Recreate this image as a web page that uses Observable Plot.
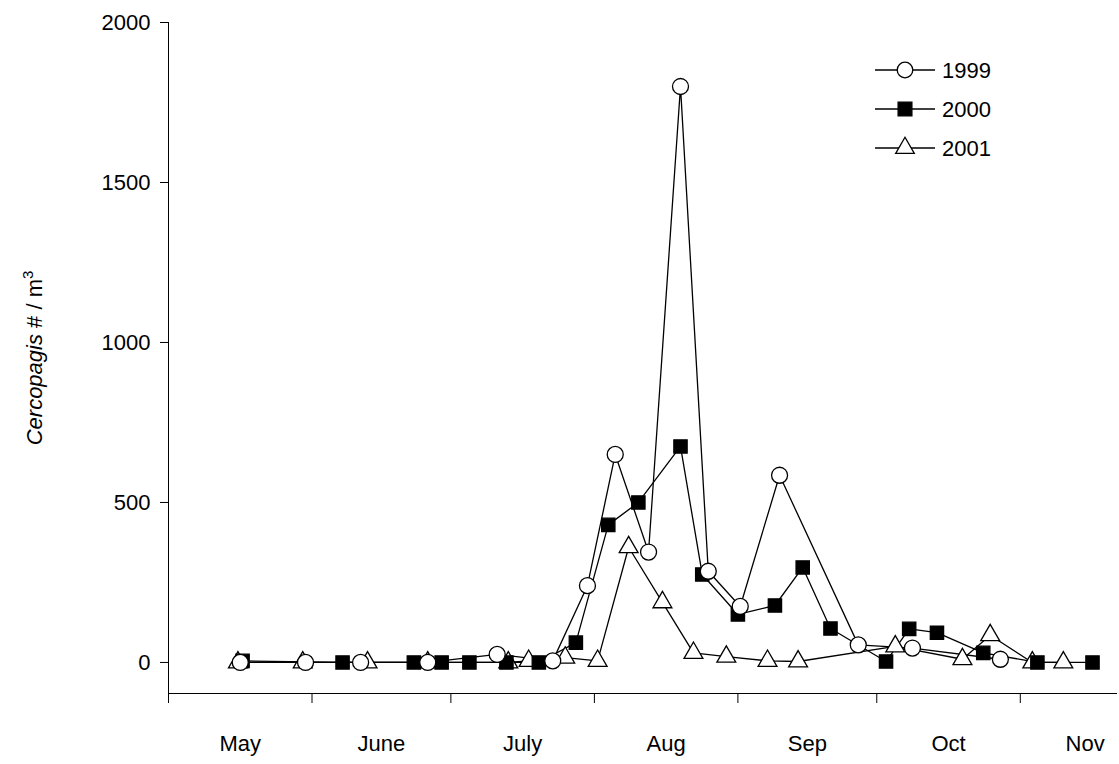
<!DOCTYPE html>
<html><head><meta charset="utf-8">
<script src="https://cdn.jsdelivr.net/npm/d3@7"></script>
<script src="https://cdn.jsdelivr.net/npm/@observablehq/plot@0.6"></script>
<style>body{margin:0;background:#fff;font-family:"Liberation Sans",Arial,sans-serif}</style>
</head><body><div id="chart"></div>
<script>
// day = days since May 1
const days1999 = [15.5,29.6,41.5,56,71,83,90.5,96.5,103.7,110.6,116.6,123.5,132,149,160.7,179.7]
const vals1999 = [0,0,0,0,25,5,240,650,345,1800,285,175,585,55,45,10]
const days2000 = [16,37.6,53,59,65,73,80,88,95,101.5,110.6,115.3,123,131,137,143,155,160,166,176,187.7,199.6]
const vals2000 = [5,0,0,0,0,0,0,62,430,500,675,275,150,178,297,106,3,105,93,30,0,0]
const days2001 = [15,29,43,56,73.4,77.8,85.7,92.7,99.4,106.7,113.4,120.5,129.4,136,157,171.5,177.5,186.6,193.3]
const vals2001 = [0,0,0,0,0,5,15,5,360,188,30,18,5,3,50,10,85,0,0]
const monthStarts = [0,31,61,92,123,153,184]
const monthMids = [15.5,46,76.5,107.5,138,168.5,198]
const monthNames = ['May','June','July','Aug','Sep','Oct','Nov']
const years = ['1999','2000','2001']

const mk = (d, v) => d.map((x, i) => ({x, y: v[i]}))
const s1999 = mk(days1999, vals1999), s2000 = mk(days2000, vals2000), s2001 = mk(days2001, vals2001)
const line = {x: 'x', y: 'y', stroke: 'black', strokeWidth: 1.3}
const dot = {x: 'x', y: 'y', stroke: 'black', strokeWidth: 1.3, r: 8}

let chart = Plot.plot({
  width: 1119, height: 764,
  marginLeft: 168, marginRight: 2, marginTop: 22, marginBottom: 71,
  style: {fontFamily: '"Liberation Sans", Arial, sans-serif', fontSize: '22px', color: 'black'},
  x: {domain: [0, 205]},
  y: {domain: [-97, 2000]},
  marks: [
    Plot.axisY({ticks: [0,500,1000,1500,2000], tickSize: 8, tickPadding: 10, tickFormat: d => String(d), label: null, fontSize: 22}),
    Plot.axisX({ticks: monthStarts, tickSize: 10, tickFormat: () => '', label: null}),
    Plot.axisX({ticks: monthMids, tickSize: 0, tickPadding: 42, tickFormat: (d, i) => monthNames[i], label: null, fontSize: 22}),
    Plot.ruleX([0], {stroke: 'black'}),
    Plot.ruleY([-97], {stroke: 'black'}),
    Plot.line(s1999, line), Plot.line(s2000, line), Plot.line(s2001, line),
    Plot.dot(s2001, {...dot, symbol: 'triangle', fill: 'white', r: 7}),
    Plot.dot(s2000, {...dot, symbol: 'square', fill: 'black', r: 7.5}),
    Plot.dot(s1999, {...dot, symbol: 'circle', fill: 'white'})
  ]
})
const svg = d3.select(chart)
svg.append('text').attr('transform', 'translate(42,358) rotate(-90)').attr('text-anchor', 'middle')
  .style('font-size', '22px')
  .call(t => {
    t.append('tspan').attr('font-style', 'italic').text('Cercopagis')
    t.append('tspan').text(' # / m')
    t.append('tspan').attr('dy', -9).style('font-size', '15px').text('3')
  })
const sym = [d3.symbolCircle, d3.symbolSquare, d3.symbolTriangle]
const fills = ['white', 'black', 'white']
years.forEach((yr, i) => {
  const g = svg.append('g').attr('transform', `translate(0,${70 + i * 39})`)
  g.append('line').attr('x1', 875).attr('x2', 935).attr('stroke', 'black').attr('stroke-width', 1.3)
  g.append('path').attr('transform', 'translate(905,0)').attr('d', d3.symbol(sym[i], i == 2 ? 150 : 190)())
    .attr('fill', fills[i]).attr('stroke', 'black').attr('stroke-width', 1.3)
  g.append('text').attr('x', 942).attr('dy', '0.35em').attr('text-anchor', 'start').style('font-size', '22px').text(yr)
})
d3.select('#chart').append(() => chart)
</script></body></html>
